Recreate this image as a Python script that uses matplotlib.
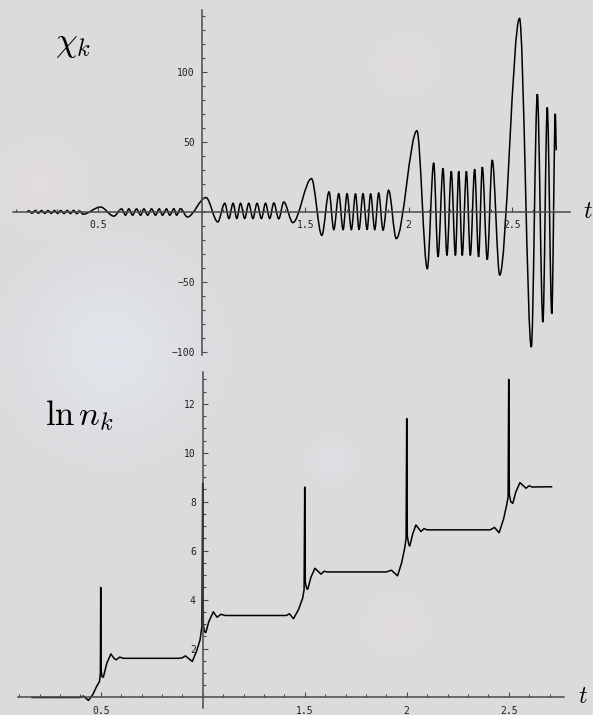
import matplotlib
matplotlib.use("Agg")
import matplotlib.pyplot as plt
from matplotlib.path import Path
from matplotlib.patches import PathPatch
from matplotlib.ticker import FixedLocator
import numpy as np

plt.rcParams["mathtext.fontset"] = "cm"

# mode amplitude chi_k(t): successive maxima and minima
chi_t = [0.155, 0.163, 0.179, 0.194, 0.210, 0.225, 0.241, 0.256, 0.272, 0.287,
         0.303, 0.318, 0.334, 0.349, 0.365, 0.380, 0.396, 0.410, 0.425, 0.510,
         0.575, 0.612, 0.631, 0.647, 0.665, 0.684, 0.704, 0.720, 0.738, 0.757,
         0.776, 0.794, 0.810, 0.829, 0.845, 0.865, 0.878, 0.897, 0.930, 1.020,
         1.077, 1.111, 1.131, 1.151, 1.169, 1.187, 1.207, 1.227, 1.247, 1.267,
         1.288, 1.308, 1.328, 1.348, 1.372, 1.396, 1.440, 1.530, 1.580, 1.615,
         1.638, 1.662, 1.683, 1.702, 1.723, 1.743, 1.760, 1.779, 1.799, 1.816,
         1.836, 1.855, 1.876, 1.903, 1.940, 2.040, 2.090, 2.121, 2.142, 2.166,
         2.185, 2.206, 2.226, 2.242, 2.259, 2.279, 2.298, 2.319, 2.338, 2.356,
         2.380, 2.404, 2.440, 2.536, 2.593, 2.622, 2.649, 2.670, 2.692, 2.709,
         2.714]
chi_v = [0.0, 0.9, -0.9, 1.0, -0.9, 1.0, -1.0, 1.0, -1.0, 1.0,
         -1.0, 1.0, -1.1, 1.1, -1.1, 1.1, -1.2, 0.6, -1.6, 3.5,
         -3.0, 2.2, -2.3, 2.2, -2.3, 2.2, -2.3, 2.2, -2.3, 2.2,
         -2.3, 2.2, -2.3, 2.2, -2.3, 2.3, -2.3, 2.4, -3.6, 10.3,
         -7.1, 6.2, -4.7, 6.2, -4.7, 6.2, -4.7, 6.2, -4.7, 6.2,
         -4.7, 6.2, -4.7, 6.4, -4.9, 7.1, -7.6, 23.8, -16.7, 14.3,
         -12.6, 13.0, -12.6, 13.0, -12.6, 13.0, -12.6, 13.0, -12.6, 13.0,
         -12.6, 13.5, -13.0, 15.5, -19.0, 57.9, -40.5, 35.0, -32.0, 31.0,
         -31.0, 29.0, -31.0, 29.0, -31.0, 29.0, -31.0, 30.5, -32.0, 32.0,
         -34.0, 37.0, -45.0, 138.0, -96.4, 84.0, -78.6, 74.5, -72.6, 70.0,
         44.0]

# occupation number ln n_k(t)
lnn_t = [0.163, 0.400, 0.415, 0.440, 0.460, 0.480, 0.494, 0.4985, 0.500, 0.5015,
         0.506, 0.513, 0.530, 0.550, 0.565, 0.575, 0.594, 0.610, 0.880, 0.900,
         0.915, 0.949, 0.970, 0.987, 0.996, 1.000, 1.003, 1.008, 1.015, 1.030,
         1.052, 1.070, 1.090, 1.110, 1.410, 1.425, 1.445, 1.470, 1.490, 1.497,
         1.500, 1.503, 1.510, 1.515, 1.530, 1.550, 1.580, 1.595, 1.610, 1.900,
         1.925, 1.955, 1.975, 1.990, 1.997, 2.000, 2.003, 2.010, 2.015, 2.030,
         2.045, 2.070, 2.085, 2.100, 2.410, 2.430, 2.453, 2.475, 2.490, 2.497,
         2.500, 2.503, 2.510, 2.520, 2.535, 2.555, 2.585, 2.600, 2.615, 2.710]
lnn_v = [0.0, 0.0, 0.06, -0.12, 0.1, 0.45, 0.65, 1.0, 4.5, 1.2,
         0.85, 0.83, 1.4, 1.78, 1.6, 1.54, 1.65, 1.6, 1.6, 1.62,
         1.7, 1.47, 1.9, 2.35, 2.9, 8.75, 3.0, 2.7, 2.65, 3.1,
         3.5, 3.28, 3.4, 3.35, 3.35, 3.42, 3.22, 3.6, 4.06, 4.4,
         8.6, 4.7, 4.45, 4.42, 4.9, 5.28, 5.04, 5.16, 5.13, 5.13,
         5.2, 4.97, 5.5, 6.1, 6.5, 11.4, 6.6, 6.25, 6.19, 6.7,
         7.05, 6.78, 6.9, 6.85, 6.85, 6.95, 6.73, 7.3, 7.87, 8.2,
         13.0, 8.3, 8.0, 7.93, 8.4, 8.78, 8.55, 8.65, 8.6, 8.61]

t_ticks = [0.5, 1.5, 2, 2.5]
t_labels = ["0.5", "1.5", "2", "2.5"]
chi_yticks = [-100, -50, 50, 100]
chi_ylabels = ["\u2212100", "\u221250", "50", "100"]
lnn_yticks = [2, 4, 6, 8, 10, 12]
lnn_ylabels = ["2", "4", "6", "8", "10", "12"]

W, H = 593, 715
fig = plt.figure(figsize=(W / 100, H / 100), dpi=100)

# pale sky-like backdrop with a few faint glows
bg = fig.add_axes([0, 0, 1, 1])
yy, xx = np.mgrid[0:H, 0:W]
img = np.ones((H, W, 3)) * np.array([219, 219, 221]) / 255.0
glows = [(110, 350, 55, (0.025, 0.04, 0.055)),
         (40, 185, 25, (0.025, 0.005, 0.0)),
         (405, 65, 18, (0.02, 0.0, 0.0)),
         (395, 625, 18, (0.02, 0.0, 0.0)),
         (330, 460, 14, (0.015, 0.02, 0.025))]
for gx, gy, r, c in glows:
    g = np.exp(-((xx - gx) ** 2 + (yy - gy) ** 2) / (2.0 * r ** 2))
    img += g[..., None] * np.array(c)
bg.imshow(np.clip(img, 0, 1), aspect="auto", interpolation="bilinear")
bg.axis("off")

axis_col = "#4a4a4a"
mono = "DejaVu Sans Mono"


def extrema_path(ts, vs):
    # cubic segments with flat tangents at each turning point
    verts = [(ts[0], vs[0])]
    codes = [Path.MOVETO]
    for t0, v0, t1, v1 in zip(ts[:-1], vs[:-1], ts[1:], vs[1:]):
        dt = (t1 - t0) / 3.0
        verts += [(t0 + dt, v0), (t1 - dt, v1), (t1, v1)]
        codes += [Path.CURVE4] * 3
    return Path(verts, codes)


def mathematica_axes(ax, x0, y0):
    ax.patch.set_alpha(0)
    for s in ["top", "right"]:
        ax.spines[s].set_visible(False)
    ax.spines["left"].set_position(("data", x0))
    ax.spines["bottom"].set_position(("data", y0))
    for s in ["left", "bottom"]:
        ax.spines[s].set_color(axis_col)
        ax.spines[s].set_linewidth(1.1)
    ax.tick_params(which="both", direction="in", color=axis_col, width=0.8,
                   labelsize=7, labelcolor="#222222")
    ax.tick_params(which="major", length=3.5)
    ax.tick_params(which="minor", length=2)
    ax.tick_params(axis="x", pad=6)
    ax.tick_params(axis="y", pad=5)
    for lab in ax.get_xticklabels() + ax.get_yticklabels():
        lab.set_family(mono)


# top panel: chi_k
ax1 = fig.add_axes([13 / W, 1 - 355 / H, 557 / W, 345 / H])
ax1.add_patch(PathPatch(extrema_path(chi_t, chi_v), fill=False,
                        edgecolor="black", lw=1.1))
ax1.set_xlim(0.087, 2.78)
ax1.set_ylim(-102, 144)
ax1.set_xticks(t_ticks)
ax1.set_xticklabels(t_labels)
ax1.set_yticks(chi_yticks)
ax1.set_yticklabels(chi_ylabels)
ax1.xaxis.set_minor_locator(FixedLocator(np.arange(0.1, 2.75, 0.1)))
ax1.yaxis.set_minor_locator(FixedLocator(np.arange(-100, 141, 10)))
mathematica_axes(ax1, 1, 0)

# bottom panel: ln n_k
ax2 = fig.add_axes([18 / W, 1 - 708 / H, 546 / W, 336 / H])
ax2.plot(lnn_t, lnn_v, color="black", lw=1.1)
ax2.set_xlim(0.0946, 2.771)
ax2.set_ylim(-0.43, 13.3)
ax2.set_xticks(t_ticks)
ax2.set_xticklabels(t_labels)
ax2.set_yticks(lnn_yticks)
ax2.set_yticklabels(lnn_ylabels)
ax2.xaxis.set_minor_locator(FixedLocator(np.arange(0.1, 2.75, 0.1)))
ax2.yaxis.set_minor_locator(FixedLocator(np.arange(0.5, 13.1, 0.5)))
mathematica_axes(ax2, 1, 0)

fig.text(55 / W, 1 - 51 / H, r"$\chi_k$", fontsize=25, ha="left", va="baseline")
fig.text(45 / W, 1 - 425 / H, r"$\ln n_k$", fontsize=25, ha="left", va="baseline")
fig.text(583 / W, 1 - 218 / H, r"$t$", fontsize=17, ha="left", va="baseline")
fig.text(578 / W, 1 - 703 / H, r"$t$", fontsize=17, ha="left", va="baseline")

fig.savefig("out.png", dpi=100)
